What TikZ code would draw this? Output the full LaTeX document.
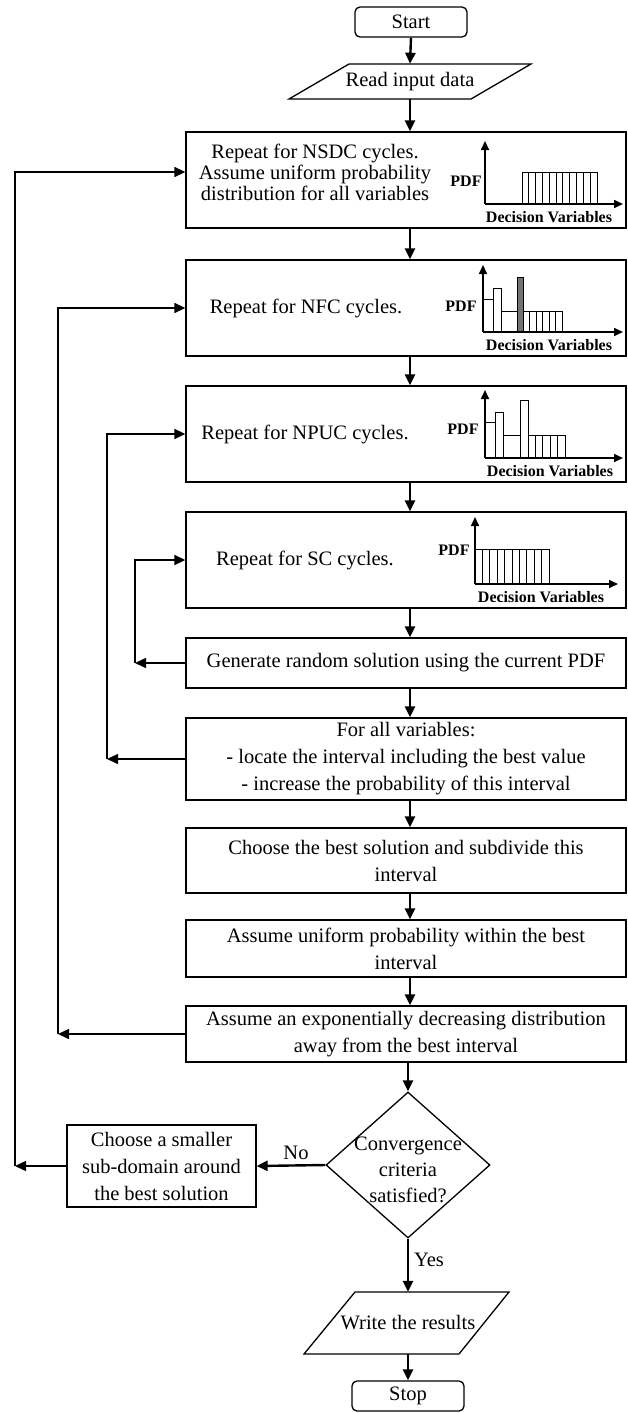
\documentclass[tikz,border=0pt]{standalone}
\usepackage{fontspec}
\setmainfont{Liberation Serif}
\usetikzlibrary{arrows.meta,shapes.geometric}
\newcommand\mfs{\fontsize{20.5}{27}\selectfont}
\newcommand\tfs{\fontsize{20.5}{21}\selectfont}
\newcommand\dfs{\fontsize{20.5}{26}\selectfont}
\newcommand\cfs{\fontsize{16}{18}\selectfont\bfseries}
\begin{document}
\begin{tikzpicture}[x=1pt,y=-1pt,
  bx/.style={draw, line width=1.3pt, rectangle, minimum width=440pt, inner sep=0pt, align=center, font=\mfs},
  sbx/.style={draw, line width=1.3pt, rectangle, inner sep=0pt, align=center, font=\mfs},
  term/.style={draw, line width=1.3pt, rounded corners=5pt, minimum width=112pt, minimum height=30pt, inner sep=0pt, font=\mfs},
  txt/.style={inner sep=0pt, align=center, font=\mfs},
  shp/.style={draw, line width=1.3pt, line join=miter},
  arr/.style={-{Triangle[length=11pt,width=10pt]}, line width=2.4pt},
  larr/.style={-{Triangle[length=11pt,width=10pt]}, line width=1.5pt},
  axis/.style={-{Triangle[length=9pt,width=8pt]}, line width=1.6pt},
  bar/.style={draw, line width=1pt},
  clab/.style={inner sep=0pt, font=\cfs}]
\useasboundingbox (0,0) rectangle (627,1413);
\coordinate (ax) at (410,0);
\coordinate (l1) at (135,0);
\coordinate (l2) at (107,0);
\coordinate (l3) at (58,0);
\coordinate (l4) at (15,0);

% terminals and I/O
\node[term] (start) at (411,22) {Start};
\node[txt, minimum height=35pt, minimum width=150pt] (read) at (410,81.5) {Read input data};
\draw[shp] (349,64) -- (531,64) -- (471,99) -- (289,99) -- cycle;

% chart boxes
\node[bx, minimum height=96pt] (nsdc) at (406,180) {};
\node[txt, font=\tfs] (nsdct) at (315,172) {Repeat for NSDC cycles.\\Assume uniform probability\\distribution for all variables};
\node[bx, minimum height=96pt] (nfc) at (406,308) {};
\node[txt] (nfct) at (306,308) {Repeat for NFC cycles.};
\node[bx, minimum height=96pt] (npuc) at (406,434) {};
\node[txt] (npuct) at (305,434) {Repeat for NPUC cycles.};
\node[bx, minimum height=96pt] (sc) at (406,560) {};
\node[txt] (sct) at (305,560) {Repeat for SC cycles.};

% chart 1
\draw[axis] (485,204) -- (485,141);
\draw[axis] (485,204) -- (623,204);
\foreach \i in {0,...,10} {\draw[bar] ({522+\i*75/11},204) rectangle ({522+(\i+1)*75/11},172);}
\node[clab] (p1) at (466,181) {PDF};
\node[clab] (d1) at (549,217) {Decision Variables};

% chart 2
\draw[bar] (483,332) rectangle (493,299);
\draw[bar] (493,332) rectangle (501,288);
\draw[bar] (501,332) rectangle (517,311);
\draw[bar, fill=black!55] (517,332) rectangle (523,277);
\foreach \i in {0,...,5} {\draw[bar] ({523+\i*6.5},332) rectangle ({523+(\i+1)*6.5},311);}
\draw[axis] (483,332) -- (483,265);
\draw[axis] (483,332) -- (623,332);
\node[clab] (p2) at (461,306) {PDF};
\node[clab] (d2) at (549,345) {Decision Variables};

% chart 3
\draw[bar] (485,458) rectangle (495,422);
\draw[bar] (495,458) rectangle (503,412);
\draw[bar] (503,458) rectangle (520,435);
\draw[bar] (520,458) rectangle (528,400);
\foreach \i in {0,...,4} {\draw[bar] ({528+\i*7.4},458) rectangle ({528+(\i+1)*7.4},435);}
\draw[axis] (485,458) -- (485,390);
\draw[axis] (485,458) -- (623,458);
\node[clab] (p3) at (463,429) {PDF};
\node[clab] (d3) at (550,471) {Decision Variables};

% chart 4
\foreach \i in {0,...,9} {\draw[bar] ({475+\i*7.4},584) rectangle ({475+(\i+1)*7.4},549);}
\draw[axis] (475,584) -- (475,517);
\draw[axis] (475,584) -- (618,584);
\node[clab] (p4) at (454,550) {PDF};
\node[clab] (d4) at (541,597) {Decision Variables};

% process boxes
\node[bx, minimum height=50pt] (gen) at (406,663) {Generate random solution using the current PDF};
\node[bx, minimum height=82pt] (forall) at (406,759) {For all variables:\\- locate the interval including the best value\\- increase the probability of this interval};
\node[bx, minimum height=65pt] (best) at (406,860.5) {Choose the best solution and subdivide this\\interval};
\node[bx, minimum height=57pt] (unif) at (406,948.5) {Assume uniform probability within the best\\interval};
\node[bx, minimum height=56pt] (expo) at (406,1034) {Assume an exponentially decreasing distribution\\away from the best interval};

% decision
\node[diamond, draw, line width=1.3pt, minimum width=164pt, minimum height=146pt, inner sep=0pt] (conv) at (408,1165) {};
\node[txt, font=\dfs] (convt) at (408,1170) {Convergence\\criteria\\satisfied?};
\node[sbx, minimum width=189pt, minimum height=82pt] (smaller) at (161.5,1166) {Choose a smaller\\sub-domain around\\the best solution};
\node[txt] (no) at (296,1153) {No};
\node[txt] (yes) at (429,1260) {Yes};

% output and stop
\node[txt, minimum height=62pt, minimum width=140pt] (write) at (408,1323) {Write the results};
\draw[shp] (355,1292) -- (509,1292) -- (459,1354) -- (304,1354) -- cycle;
\node[term] (stop) at (408,1396) {Stop};

% main flow
\draw[arr] (start.south) -- (read.north);
\draw[arr] (read.south) -- (nsdc.north -| read.south);
\draw[arr] (nsdc.south -| ax) -- (nfc.north -| ax);
\draw[arr] (nfc.south -| ax) -- (npuc.north -| ax);
\draw[arr] (npuc.south -| ax) -- (sc.north -| ax);
\draw[arr] (sc.south -| ax) -- (gen.north -| ax);
\draw[arr] (gen.south -| ax) -- (forall.north -| ax);
\draw[arr] (forall.south -| ax) -- (best.north -| ax);
\draw[arr] (best.south -| ax) -- (unif.north -| ax);
\draw[arr] (unif.south -| ax) -- (expo.north -| ax);
\draw[arr] (expo.south -| conv.north) -- (conv.north);
\draw[arr] (conv.south) -- (write.north);
\draw[arr] (write.south) -- (stop.north);
\draw[arr] (conv.west) -- (smaller.east);

% loops
\draw[larr] (gen.west) -- (gen.west -| l1);
\draw[larr] (gen.west -| l1) |- (sc.west);
\draw[larr] (forall.west) -- (forall.west -| l2);
\draw[larr] (forall.west -| l2) |- (npuc.west);
\draw[larr] (expo.west) -- (expo.west -| l3);
\draw[larr] (expo.west -| l3) |- (nfc.west);
\draw[larr] (smaller.west) -- (smaller.west -| l4);
\draw[larr] (smaller.west -| l4) |- (nsdct.center -| nsdc.west);
\end{tikzpicture}
\end{document}
